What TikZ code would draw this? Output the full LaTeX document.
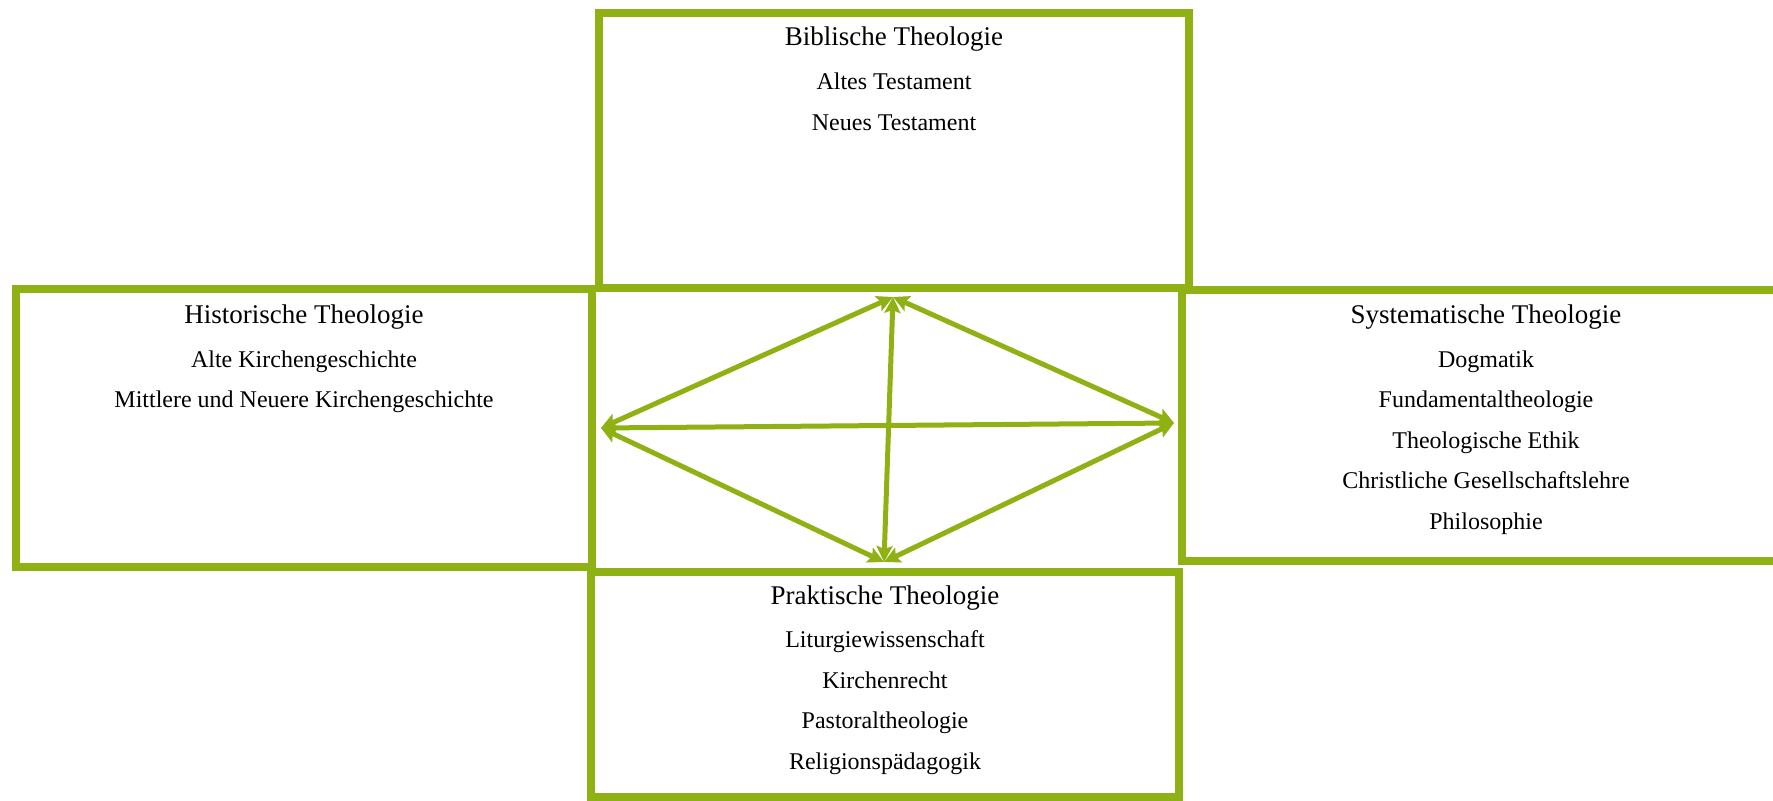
\documentclass[tikz,border=0pt]{standalone}
\usepackage{fontspec}
\setmainfont{Liberation Serif}
\usetikzlibrary{arrows.meta,calc}
\definecolor{fachgruen}{RGB}{143,177,20}
\tikzset{
    fach-box/.style = {draw=fachgruen, line width=4pt, rectangle, inner sep=0pt},
    fach-title/.style = {anchor=base, font=\fontsize{13.5}{16}\selectfont},
    fach-item/.style = {anchor=base, font=\fontsize{12}{14}\selectfont},
    link/.style = {fachgruen, line width=2.5pt, >={Stealth[length=8pt, width=8pt, inset=1.5pt]}, <->},
}

\begin{document}
\begin{tikzpicture}[x=0.5pt, y=-0.5pt]
\useasboundingbox (0,0) rectangle (1773,801);

\node [fach-box, minimum width=295pt, minimum height=137.5pt] (bib) at (894,150.5) {};
\node [fach-box, minimum width=288pt, minimum height=139pt] (hist) at (304,428) {};
\node [fach-box, minimum width=304pt, minimum height=135.5pt] (sys) at (1486,425.5) {};
\node [fach-box, minimum width=294pt, minimum height=112.5pt] (prak) at (885,684.5) {};

\node [fach-title] (bib-title) at ($(bib.north)+(0,36.5)$) {Biblische Theologie};
\foreach \fach [count=\i] in {Altes Testament, Neues Testament}
    \node [fach-item] (bib-\i) at ($(bib.north)+(0,{40.5+40.5*\i})$) {\fach};

\node [fach-title] (hist-title) at ($(hist.north)+(0,38.5)$) {Historische Theologie};
\foreach \fach [count=\i] in {Alte Kirchengeschichte, Mittlere und Neuere Kirchengeschichte}
    \node [fach-item] (hist-\i) at ($(hist.north)+(0,{42+40.5*\i})$) {\fach};

\node [fach-title] (sys-title) at ($(sys.north)+(0,37.5)$) {Systematische Theologie};
\foreach \fach [count=\i] in {Dogmatik, Fundamentaltheologie, Theologische Ethik, Christliche Gesellschaftslehre, Philosophie}
    \node [fach-item] (sys-\i) at ($(sys.north)+(0,{41+40.5*\i})$) {\fach};

\node [fach-title] (prak-title) at ($(prak.north)+(0,36.5)$) {Praktische Theologie};
\foreach \fach [count=\i] in {Liturgiewissenschaft, Kirchenrecht, Pastoraltheologie, Religionspädagogik}
    \node [fach-item] (prak-\i) at ($(prak.north)+(0,{39.5+40.5*\i})$) {\fach};

\coordinate (pt-bib) at ($(bib.south)+(-1,5)$);
\coordinate (pt-hist) at ($(hist.east)+(5,0)$);
\coordinate (pt-sys) at ($(sys.west)+(-4,-2.5)$);
\coordinate (pt-prak) at ($(prak.north)+(-1,-6)$);

\draw [link] (pt-hist) -- (pt-bib);
\draw [link] (pt-bib) -- (pt-sys);
\draw [link] (pt-hist) -- (pt-sys);
\draw [link] (pt-hist) -- (pt-prak);
\draw [link] (pt-prak) -- (pt-sys);
\draw [link] (pt-bib) -- (pt-prak);
\end{tikzpicture}
\end{document}
